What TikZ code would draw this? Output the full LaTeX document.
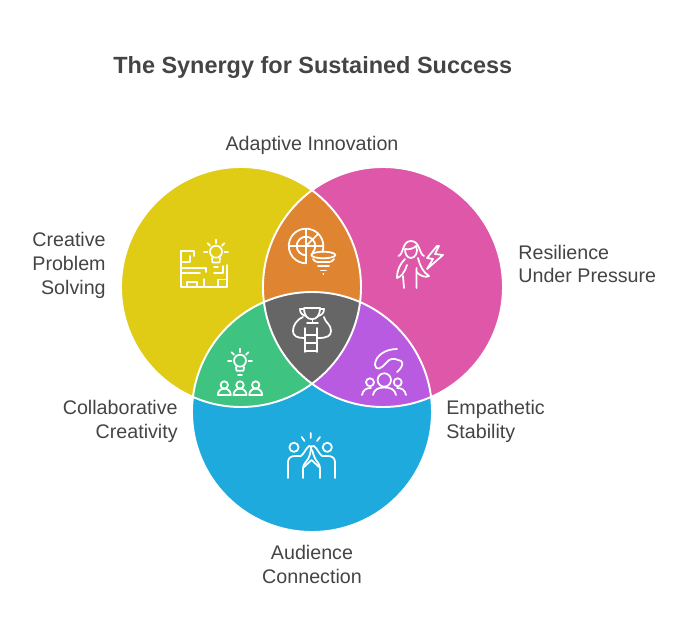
\documentclass[tikz,border=0pt]{standalone}
\usepackage{fontspec}
\setmainfont{Liberation Sans}
\definecolor{venngold}{HTML}{E0CB15}
\definecolor{vennpink}{HTML}{DF57A9}
\definecolor{vennblue}{HTML}{1EAADC}
\definecolor{vennorange}{HTML}{DF8430}
\definecolor{venngreen}{HTML}{3FC380}
\definecolor{vennpurple}{HTML}{B85BE0}
\definecolor{venngray}{HTML}{666666}
\definecolor{inktext}{HTML}{444444}
\newcommand{\circgold}{(241,287) circle[radius=120]}
\newcommand{\circpink}{(383,287) circle[radius=120]}
\newcommand{\circblue}{(312,412) circle[radius=120]}
\tikzset{
  labeltext/.style={text=inktext, font=\fontsize{11.2}{13.6}\selectfont, inner sep=0pt},
  icon/.style={draw=white, line width=1pt, line cap=round, line join=round},
}
\begin{document}
\begin{tikzpicture}[x=0.02cm,y=-0.02cm]
    \useasboundingbox (0,0) rectangle (684,636);
    \fill[venngold] \circgold;
    \fill[vennpink] \circpink;
    \fill[vennblue] \circblue;
    \begin{scope}
      \clip \circgold;
      \fill[vennorange] \circpink;
    \end{scope}
    \begin{scope}
      \clip \circgold;
      \fill[venngreen] \circblue;
    \end{scope}
    \begin{scope}
      \clip \circpink;
      \fill[vennpurple] \circblue;
    \end{scope}
    \begin{scope}
      \clip \circgold;
      \clip \circpink;
      \fill[venngray] \circblue;
    \end{scope}
    \draw[white, line width=1.1pt] \circgold \circpink \circblue;

    \node[labeltext, font=\fontsize{13.35}{16}\selectfont\bfseries, anchor=base west] at (113,73) (title) {The Synergy for Sustained Success};
    \node[labeltext] at (312,145) (adaptive) {Adaptive Innovation};
    \node[labeltext, align=right, anchor=east] at (106,265.5) (creative) {Creative\\Problem\\Solving};
    \node[labeltext, align=left, anchor=west] at (518,264) (resilience) {Resilience\\Under Pressure};
    \node[labeltext, align=right, anchor=east] at (178,421) (collab) {Collaborative\\Creativity};
    \node[labeltext, align=left, anchor=west] at (446,421) (empathetic) {Empathetic\\Stability};
    \node[labeltext, align=center] at (312,564.5) (audience) {Audience\\Connection};

    % plan and bulb
    \draw[icon] (216,251.7) circle[radius=6];
    \foreach \a in {180,225,270,315,360}
      \draw[icon] (216,251.7) ++(\a:8.5) -- ++(\a:3.5);
    \draw[icon] (212,258) -- (212.5,262.5) -- (219.5,262.5) -- (220,258);
    \draw[icon] (214,267) -- (218,267);
    \draw[icon] (227.3,265) -- (227.3,286.7) -- (181,286.7) -- (181,250.7) -- (194,250.7) -- (194,256) (181,262) -- (190,262) -- (190,256);
    \draw[icon] (181,267.7) -- (206,267.7) -- (206,272);
    \draw[icon] (181,273.3) -- (200,273.3);
    \draw[icon] (187,286.7) -- (187,281.7) -- (197,281.7) -- (197,286.7);
    \draw[icon] (204,286.7) -- (204,279);
    \draw[icon] (218,286.7) -- (218,279.5) -- (227.3,279.5);
    \draw[icon] (214,273.3) -- (223,273.3) -- (223,266);

    % radar and funnel
    \draw[icon] (322.3,251.9) arc[start angle=20,end angle=-270,radius=17.3];
    \draw[icon] (306,246) ++(45:9.3) arc[start angle=45,end angle=-270,radius=9.3];
    \draw[icon] (288.7,246) -- (323.3,246) (306,228.7) -- (306,263.3);
    \draw[icon] (306,246) -- (318.2,233.8);
    \draw[icon] (323.3,255) ellipse[x radius=12,y radius=3.3];
    \draw[icon] (313,259) .. controls (315,263) and (320,262) .. (323,262) .. controls (327,262) and (332,263) .. (334,259);
    \draw[icon] (318,266) -- (329,266) (321,270.5) -- (326,270.5);
    \draw[icon] (323.3,274) -- (323.5,274);

    % woman and lightning
    \draw[icon] (398.5,256) .. controls (404,254) and (402,241) .. (411,241) .. controls (420,241) and (419,254) .. (424,256);
    \draw[icon] (405,249) .. controls (410,250) and (414,248) .. (416,246) .. controls (419,252) and (415,258) .. (411,258) .. controls (407,258) and (405,254) .. (405,249);
    \draw[icon] (405,259) .. controls (400,264) and (397,270) .. (397,278) .. controls (401,277) and (405,272) .. (407,265);
    \draw[icon] (418,258) .. controls (420,266) and (423,272) .. (429,276) .. controls (426,278) and (420,276) .. (416.5,272);
    \draw[icon] (403,276) -- (404,288) (416.5,268) -- (416.5,288);
    \draw[icon] (437,246) -- (427,258) -- (433,259) -- (427,269) -- (443,255) -- (435,254) -- (439,246) -- cycle;

    % trophy on a ladder
    \draw[icon] (304,308) -- (320,308) .. controls (320,316) and (316,319) .. (313,319) -- (311,319) .. controls (308,319) and (304,316) .. (304,308);
    \draw[icon] (304,309) -- (300,309) .. controls (300,313) and (302,315) .. (306,316);
    \draw[icon] (320,309) -- (324,309) .. controls (324,313) and (322,315) .. (318,316);
    \draw[icon] (312.5,319) -- (312.5,323) (307,323) -- (318,323);
    \draw[icon] (305,328) -- (305,352) (317,328) -- (317,352);
    \draw[icon] (305,335) -- (317,335) (305,343) -- (317,343) (305,351) -- (317,351);
    \draw[icon] (303,317) .. controls (296,320) and (293,326) .. (293,331) .. controls (293,336) and (297,338) .. (304,338);
    \draw[icon] (324,317) .. controls (326,324) and (331,324) .. (331,331) .. controls (331,336) and (327,338) .. (318,338);

    % bulb and team
    \draw[icon] (240,360.7) circle[radius=6];
    \foreach \a in {180,225,270,315,360}
      \draw[icon] (240,360.7) ++(\a:8.5) -- ++(\a:3.5);
    \draw[icon] (236,367) -- (236.5,370.7) -- (243.5,370.7) -- (244,367);
    \draw[icon] (238,375) -- (242,375);
    \foreach \px in {224.3,240,255.7} {
      \draw[icon] (\px,385) circle[radius=3.7];
      \draw[icon] (\px-6.5,395) arc[start angle=180,end angle=360,radius=6.5] -- cycle;
    }

    % hand over a group
    \draw[icon] (397,349) .. controls (385,349) and (375,356) .. (375,365) .. controls (376,371) and (381,369) .. (386,363) .. controls (390,358) and (394,358) .. (398,360) .. controls (404,360) and (404,366) .. (397,372);
    \draw[icon] (384.3,380) circle[radius=6.7];
    \draw[icon] (370,382.3) circle[radius=4] (397.7,382.3) circle[radius=4];
    \draw[icon] (373,395) .. controls (374,389) and (379,387.5) .. (384.3,387.5) .. controls (390,387.5) and (395,389) .. (396,395);
    \draw[icon] (362,395) .. controls (363,390) and (366,388) .. (371,388);
    \draw[icon] (406,395) .. controls (405,390) and (402,388) .. (397,388);

    % high five
    \draw[icon] (294,447.3) circle[radius=4.6] (327.3,447.3) circle[radius=4.6];
    \draw[icon] (310.7,433) -- (310.7,438) (301.7,437) -- (304.5,441) (320,437) -- (317,441);
    \draw[icon] (288,478) -- (288,462) .. controls (288,458) and (291,456) .. (295,456) -- (301,456) .. controls (304,454) and (306,448) .. (309,446) .. controls (311,445) and (312,447) .. (311,449) -- (310,454) .. controls (308,462) and (303,463) .. (303,468) -- (303,478);
    \draw[icon] (335,478) -- (335,462) .. controls (335,458) and (332,456) .. (328,456) -- (322,456) .. controls (319,454) and (317,448) .. (314,446) .. controls (312,445) and (310,447) .. (311,449);
    \draw[icon] (312,450) -- (314,456) .. controls (316,462) and (320,463) .. (320,468) -- (320,478);
    \draw[icon] (311.5,460) -- (304,467) (311.5,460) -- (319,467);
  \end{tikzpicture}
\end{document}
